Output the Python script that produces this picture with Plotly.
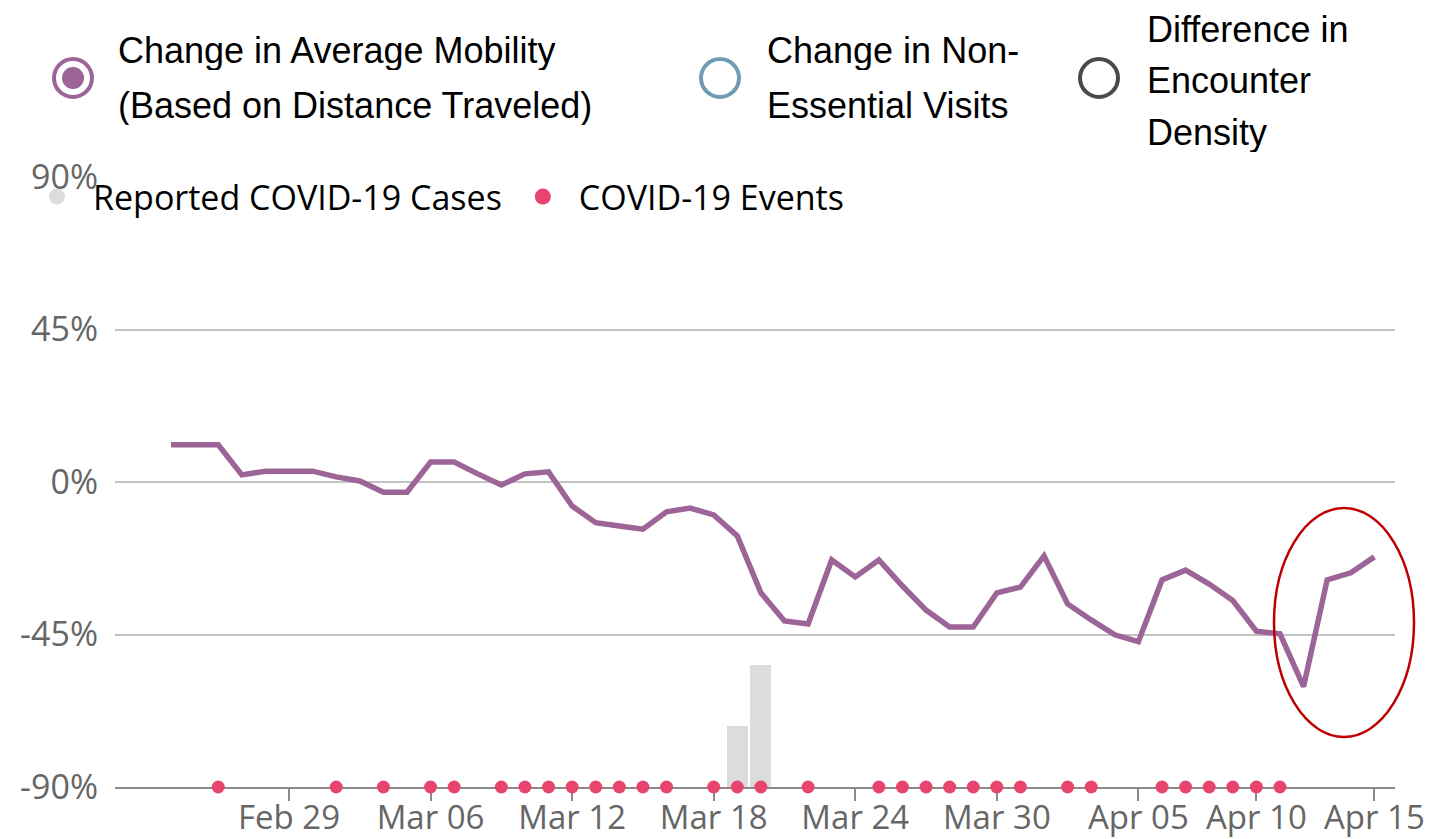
import plotly.graph_objects as go

# ---------------- data ----------------
dates = [
    "2020-02-24", "2020-02-25", "2020-02-26", "2020-02-27", "2020-02-28", "2020-02-29",
    "2020-03-01", "2020-03-02", "2020-03-03", "2020-03-04", "2020-03-05", "2020-03-06",
    "2020-03-07", "2020-03-08", "2020-03-09", "2020-03-10", "2020-03-11", "2020-03-12",
    "2020-03-13", "2020-03-14", "2020-03-15", "2020-03-16", "2020-03-17", "2020-03-18",
    "2020-03-19", "2020-03-20", "2020-03-21", "2020-03-22", "2020-03-23", "2020-03-24",
    "2020-03-25", "2020-03-26", "2020-03-27", "2020-03-28", "2020-03-29", "2020-03-30",
    "2020-03-31", "2020-04-01", "2020-04-02", "2020-04-03", "2020-04-04", "2020-04-05",
    "2020-04-06", "2020-04-07", "2020-04-08", "2020-04-09", "2020-04-10", "2020-04-11",
    "2020-04-12", "2020-04-13", "2020-04-14", "2020-04-15",
]
mobility_change = [
    11.0, 11.0, 11.0, 2.1, 3.2, 3.2,
    3.2, 1.5, 0.3, -3.0, -3.0, 5.9,
    5.9, 2.4, -0.9, 2.4, 3.0, -7.1,
    -12.0, -13.0, -13.9, -8.8, -7.7, -9.7,
    -15.9, -32.7, -41.0, -41.9, -23.0, -28.0,
    -23.0, -30.7, -37.8, -42.8, -42.8, -32.7,
    -31.0, -21.8, -36.0, -40.7, -45.1, -47.1,
    -28.9, -26.0, -30.1, -35.0, -44.0, -44.8,
    -60.4, -28.9, -26.8, -22.1,
]

case_dates = ["2020-03-19", "2020-03-20"]
case_counts = [1, 2]

event_dates = [
    "2020-02-26", "2020-03-02", "2020-03-04", "2020-03-06", "2020-03-07", "2020-03-09",
    "2020-03-10", "2020-03-11", "2020-03-12", "2020-03-13", "2020-03-14", "2020-03-15",
    "2020-03-16", "2020-03-18", "2020-03-19", "2020-03-20", "2020-03-22", "2020-03-25",
    "2020-03-26", "2020-03-27", "2020-03-28", "2020-03-29", "2020-03-30", "2020-03-31",
    "2020-04-02", "2020-04-03", "2020-04-06", "2020-04-07", "2020-04-08", "2020-04-09",
    "2020-04-10", "2020-04-11",
]

x_tick_vals = ["2020-02-29", "2020-03-06", "2020-03-12", "2020-03-18", "2020-03-24",
               "2020-03-30", "2020-04-05", "2020-04-10", "2020-04-15"]
x_tick_text = ["Feb 29", "Mar 06", "Mar 12", "Mar 18", "Mar 24",
               "Mar 30", "Apr 05", "Apr 10", "Apr 15"]
y_tick_vals = [-90, -45, 0, 45, 90]
y_tick_text = ["-90%", "-45%", "0%", "45%", "90%"]

top_legend_items = [
    ["Change in Average Mobility", "(Based on Distance Traveled)"],
    ["Change in Non-", "Essential Visits"],
    ["Difference in", "Encounter", "Density"],
]

# ---------------- styles ----------------
PURPLE = "#9c6497"
BLUE = "#6f9cb3"
DARK = "#4a4a4a"
PINK = "#e8456e"
BAR_GREY = "#dcdcdc"
GRID = "#c3c3c3"
AXIS = "#8a8a8a"
TICK_FONT = dict(family="Open Sans, Noto Sans, sans-serif", size=34, color="#666666")
XTICK_FONT = dict(family="Open Sans, Noto Sans, sans-serif", size=33, color="#666666")
LEG_FONT = dict(family="Liberation Sans, Arial, sans-serif", size=36, color="#000000")

# page body adds an 8px offset; margins compensate so the plot area lands at
# x 115..1395, y 177..787 of the page
W, H = 1455, 839
ML, MR, MT, MB = 107, 68, 169, 60
PW, PH = W - ML - MR, H - MT - MB
OFF = 8


def px(xpix):
    return (xpix - OFF - ML) / PW


def py(ypix):
    return (H - MB - (ypix - OFF)) / PH


fig = go.Figure()

# mobility line (primary y)
fig.add_trace(go.Scatter(
    x=dates, y=mobility_change, mode="lines",
    line=dict(color=PURPLE, width=5.5),
    name="Change in Average Mobility", showlegend=False,
    yaxis="y",
))

# cases bars (secondary y)
fig.add_trace(go.Bar(
    x=case_dates, y=case_counts, marker_color=BAR_GREY, marker_line_width=0,
    width=0.89 * 86400000, yaxis="y2", showlegend=False,
    name="Reported COVID-19 Cases",
))

# events markers on baseline
fig.add_trace(go.Scatter(
    x=event_dates, y=[0] * len(event_dates), mode="markers",
    marker=dict(color=PINK, size=13), yaxis="y2", cliponaxis=False,
    showlegend=False, name="COVID-19 Events",
))

# legend entries (row 2)
fig.add_trace(go.Scatter(
    x=[None], y=[None], mode="markers", marker=dict(color=BAR_GREY, size=16),
    name="Reported COVID-19 Cases", yaxis="y2",
))
fig.add_trace(go.Scatter(
    x=[None], y=[None], mode="markers", marker=dict(color=PINK, size=16),
    name="COVID-19 Events", yaxis="y2",
))

shapes = []
annotations = []

# top custom legend
circle_centers = [(73, 78), (720, 78), (1099, 78)]
circle_colors = [PURPLE, BLUE, DARK]
text_x = [119, 768, 1148]
line_ys = [[50, 105], [50, 105], [29, 80, 132]]
for i, item in enumerate(top_legend_items):
    cx, cy = circle_centers[i]
    shapes.append(dict(
        type="circle", xref="paper", yref="paper", xsizemode="pixel", ysizemode="pixel",
        xanchor=px(cx), yanchor=py(cy), x0=-19, x1=19, y0=-19, y1=19,
        line=dict(color=circle_colors[i], width=4), fillcolor="rgba(0,0,0,0)",
    ))
    if i == 0:
        shapes.append(dict(
            type="circle", xref="paper", yref="paper", xsizemode="pixel", ysizemode="pixel",
            xanchor=px(cx), yanchor=py(cy), x0=-11, x1=11, y0=-11, y1=11,
            line=dict(width=0), fillcolor=PURPLE,
        ))
    for line_text, ly in zip(item, line_ys[i]):
        annotations.append(dict(
            text=line_text, xref="paper", yref="paper", x=px(text_x[i] - 3), y=py(ly),
            xanchor="left", yanchor="middle", showarrow=False, font=LEG_FONT,
            height=40, valign="middle",
        ))

# highlight ellipse
shapes.append(dict(
    type="circle", xref="paper", yref="paper",
    x0=px(1274), x1=px(1414), y0=py(737), y1=py(508),
    line=dict(color="#c00000", width=2.5), fillcolor="rgba(0,0,0,0)", layer="above",
))

fig.update_layout(
    width=W, height=H,
    margin=dict(l=ML, r=MR, t=MT, b=MB, autoexpand=False),
    paper_bgcolor="white", plot_bgcolor="white",
    shapes=shapes, annotations=annotations,
    bargap=0,
    xaxis=dict(
        type="date",
        range=["2020-02-21 15:00", "2020-04-15 21:00"],
        tickvals=x_tick_vals, ticktext=x_tick_text,
        tickfont=XTICK_FONT,
        showgrid=False, zeroline=False,
        showline=True, linecolor=AXIS, linewidth=2,
        ticks="outside", ticklen=12, tickwidth=2, tickcolor=AXIS,
        ticklabelstandoff=-12,
        layer="below traces",
    ),
    yaxis=dict(
        range=[-90, 90], tickvals=y_tick_vals, ticktext=y_tick_text,
        tickfont=TICK_FONT, showgrid=True, gridcolor=GRID, gridwidth=2,
        zeroline=False, showline=False, ticks="", ticklabelstandoff=16,
    ),
    yaxis2=dict(
        overlaying="y", range=[0, 10], visible=False,
    ),
    showlegend=True,
    legend=dict(
        orientation="h", xref="paper", yref="paper",
        x=px(21), y=py(168), xanchor="left", yanchor="top",
        traceorder="normal",
        font=dict(family="Open Sans, Noto Sans, sans-serif", size=34, color="#000000"),
        bgcolor="rgba(0,0,0,0)", borderwidth=0, itemwidth=62,
        itemclick=False, itemdoubleclick=False,
    ),
)

fig.write_html("out.html")
